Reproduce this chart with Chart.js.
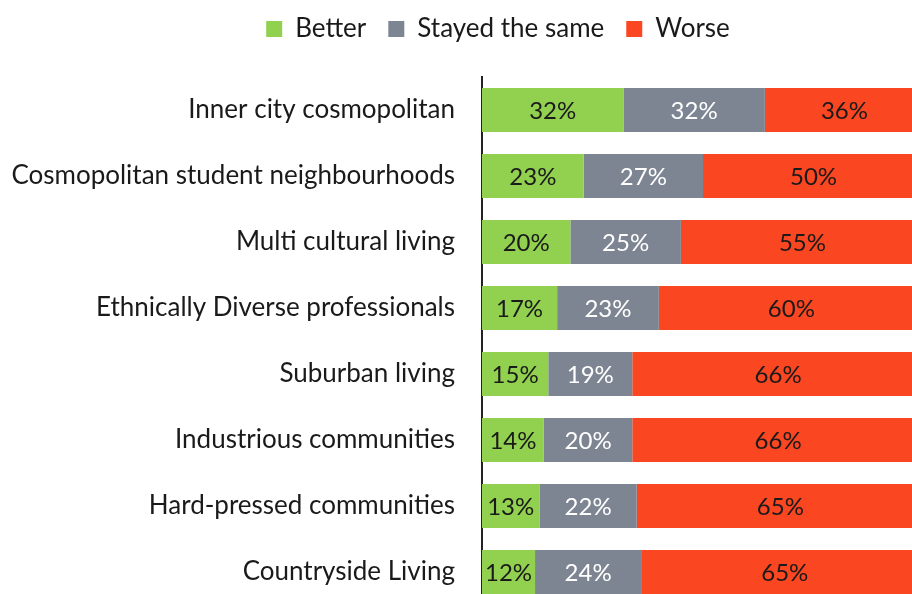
<!DOCTYPE html>
<html>
<head>
<meta charset="utf-8">
<script src="https://cdn.jsdelivr.net/npm/chart.js@4/dist/chart.umd.min.js"></script>
<style>
  html, body { margin: 0; padding: 0; overflow: hidden; background: #fff; }
  #wrap { width: 930px; height: 610px; }
</style>
</head>
<body>
<div id="wrap"><canvas id="chart" width="930" height="610"></canvas></div>
<script>
// Datos
const categorias = [
    'Inner city cosmopolitan',
    'Cosmopolitan student neighbourhoods',
    'Multi cultural living',
    'Ethnically Diverse professionals',
    'Suburban living',
    'Industrious communities',
    'Hard-pressed communities',
    'Countryside Living'
];
const better = [32, 23, 20, 17, 15, 14, 13, 12];
const same = [32, 27, 25, 23, 19, 20, 22, 24];
const worse = [36, 50, 55, 60, 66, 66, 65, 65];
const seriesNames = ['Better', 'Stayed the same', 'Worse'];

const colors = ['#92D050', '#7D8592', '#FA4621'];
const labelColors = ['#1a1a1a', '#ffffff', '#1a1a1a'];
const FONT = 'Lato, "Open Sans", sans-serif';

// Espacio extra bajo la leyenda y desplazamiento de la leyenda
const legendSpacing = {
    id: 'legendSpacing',
    beforeInit(chart) {
        const fit = chart.legend.fit;
        chart.legend.fit = function () {
            fit.bind(chart.legend)();
            this.height += 19;
        };
    },
    afterLayout(chart) {
        const lg = chart.legend;
        lg.top -= 6;
        lg.bottom -= 6;
        lg.left += 36;
        lg.right += 36;
    }
};

// Etiquetas dentro de cada segmento
const segmentLabels = {
    id: 'segmentLabels',
    afterDatasetsDraw(chart) {
        const ctx = chart.ctx;
        ctx.save();
        ctx.font = '24px ' + FONT;
        ctx.textAlign = 'center';
        ctx.textBaseline = 'middle';
        chart.data.datasets.forEach((ds, i) => {
            const meta = chart.getDatasetMeta(i);
            meta.data.forEach((bar, j) => {
                const p = bar.getProps(['x', 'y', 'base'], true);
                ctx.fillStyle = labelColors[i];
                ctx.fillText(ds.data[j] + '%', (p.x + p.base) / 2, p.y + 1);
            });
        });
        ctx.restore();
    }
};

const ctx = document.getElementById('chart').getContext('2d');
new Chart(ctx, {
    type: 'bar',
    data: {
        labels: categorias,
        datasets: [better, same, worse].map((d, i) => ({
            label: seriesNames[i],
            data: d,
            backgroundColor: colors[i],
            borderWidth: 0,
            categoryPercentage: 1,
            barPercentage: 0.665
        }))
    },
    options: {
        indexAxis: 'y',
        responsive: false,
        animation: false,
        layout: { padding: { left: 0, right: 6, top: 0, bottom: 5 } },
        scales: {
            x: { stacked: true, min: 0, max: 100, display: false },
            y: {
                stacked: true,
                grid: { display: false, drawTicks: false },
                border: { display: true, color: '#222', width: 2 },
                ticks: { color: '#1a1a1a', padding: 27, font: { family: FONT, size: 26 } },
                afterFit(scale) {
                    scale.width = 482;
                    scale.paddingTop = 0;
                    scale.paddingBottom = 0;
                }
            }
        },
        plugins: {
            legend: {
                position: 'top',
                labels: {
                    boxWidth: 16,
                    boxHeight: 16,
                    padding: 22,
                    color: '#1a1a1a',
                    font: { family: FONT, size: 26 }
                }
            },
            tooltip: { enabled: false }
        }
    },
    plugins: [legendSpacing, segmentLabels]
});
</script>
</body>
</html>
